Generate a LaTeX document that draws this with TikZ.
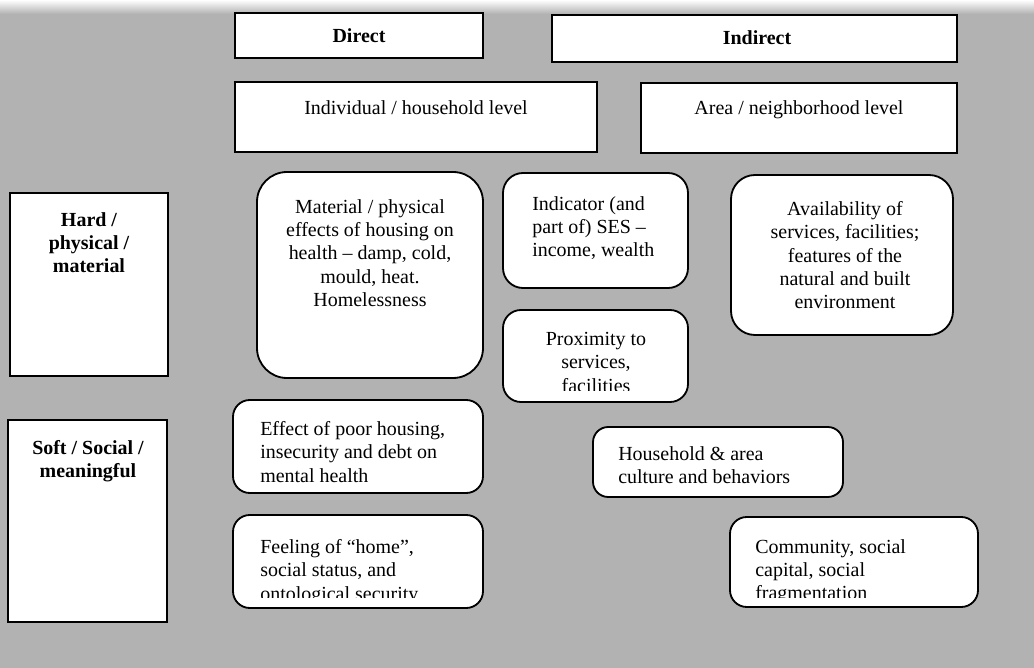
\documentclass[tikz,border=0pt]{standalone}
\usepackage{fontspec}
\setmainfont{Liberation Serif}
\usepackage{tikz}
\usetikzlibrary{positioning}

\definecolor{scangray}{RGB}{178,178,178}

\tikzset{
  cell/.style={draw, fill=white, line width=1.3pt},
  rcell/.style={cell, rounded corners=#1},
  txt/.style={inner sep=0pt, font=\fontsize{14.2pt}{16.6pt}\selectfont},
  head/.style={txt, font=\fontsize{14.2pt}{16.6pt}\selectfont\bfseries},
}

\begin{document}
\begin{tikzpicture}[x=0.025cm, y=-0.025cm]
  % scanned page behind the table
  \fill[scangray] (0,0) rectangle (1034,668);
  \shade[top color=white, bottom color=scangray] (0,0) rectangle (1034,14);
  \useasboundingbox (0,0) rectangle (1034,668);

  % column heads
  \draw[cell] (235,13) rectangle (483,58);
  \node[head] (direct) at (359,36) {Direct};
  \draw[cell] (552,15) rectangle (957,62);
  \node[head] (indirect) at (757,38) {Indirect};
  \draw[cell] (235,82) rectangle (597,152);
  \node[txt] (indiv) at (416,108) {Individual / household level};
  \draw[cell] (641,83) rectangle (957,153);
  \node[txt] (area) at (799,110) {Area / neighborhood level};

  % row heads
  \draw[cell] (10,193) rectangle (168,376);
  \node[head, align=center, anchor=north] (hard) at (89,212) {Hard /\\physical /\\material};
  \draw[cell] (8,420) rectangle (167,622);
  \node[head, align=center, anchor=north] (soft) at (88,440) {Soft / Social /\\meaningful};

  % hard / physical row
  \draw[rcell=0.75cm] (257,172) rectangle (483,378);
  \node[txt, align=center, anchor=north] (material) at (370,199)
    {Material / physical\\effects of housing on\\health -- damp, cold,\\mould, heat.\\Homelessness};
  \draw[rcell=0.5cm] (503,173) rectangle (688,288);
  \node[txt, align=left, anchor=north west] (ses) at (532,196)
    {Indicator (and\\part of) SES --\\income, wealth};
  \draw[rcell=0.45cm] (503,310) rectangle (688,402);
  \begin{scope}
    \clip (503,310) rectangle (688,391);
    \node[txt, align=center, anchor=north] (proximity) at (596,332)
      {Proximity to\\services,\\facilities};
  \end{scope}
  \draw[rcell=0.6cm] (731,175) rectangle (953,335);
  \node[txt, align=center, anchor=north] (avail) at (845,201)
    {Availability of\\services, facilities;\\features of the\\natural and built\\environment};

  % soft / social row
  \draw[rcell=0.42cm] (233,400) rectangle (483,493);
  \node[txt, align=left, anchor=north west] (mental) at (260,421)
    {Effect of poor housing,\\insecurity and debt on\\mental health};
  \draw[rcell=0.42cm] (233,515) rectangle (483,608);
  \begin{scope}
    \clip (233,515) rectangle (483,598);
    \node[txt, align=left, anchor=north west] (home) at (260,539)
      {Feeling of ``home'',\\social status, and\\ontological security};
  \end{scope}
  \draw[rcell=0.38cm] (593,427) rectangle (843,497);
  \node[txt, align=left, anchor=north west] (culture) at (618,446)
    {Household \& area\\culture and behaviors};
  \draw[rcell=0.42cm] (730,517) rectangle (978,607);
  \begin{scope}
    \clip (730,517) rectangle (978,598);
    \node[txt, align=left, anchor=north west] (community) at (755,539)
      {Community, social\\capital, social\\fragmentation};
  \end{scope}
\end{tikzpicture}
\end{document}
